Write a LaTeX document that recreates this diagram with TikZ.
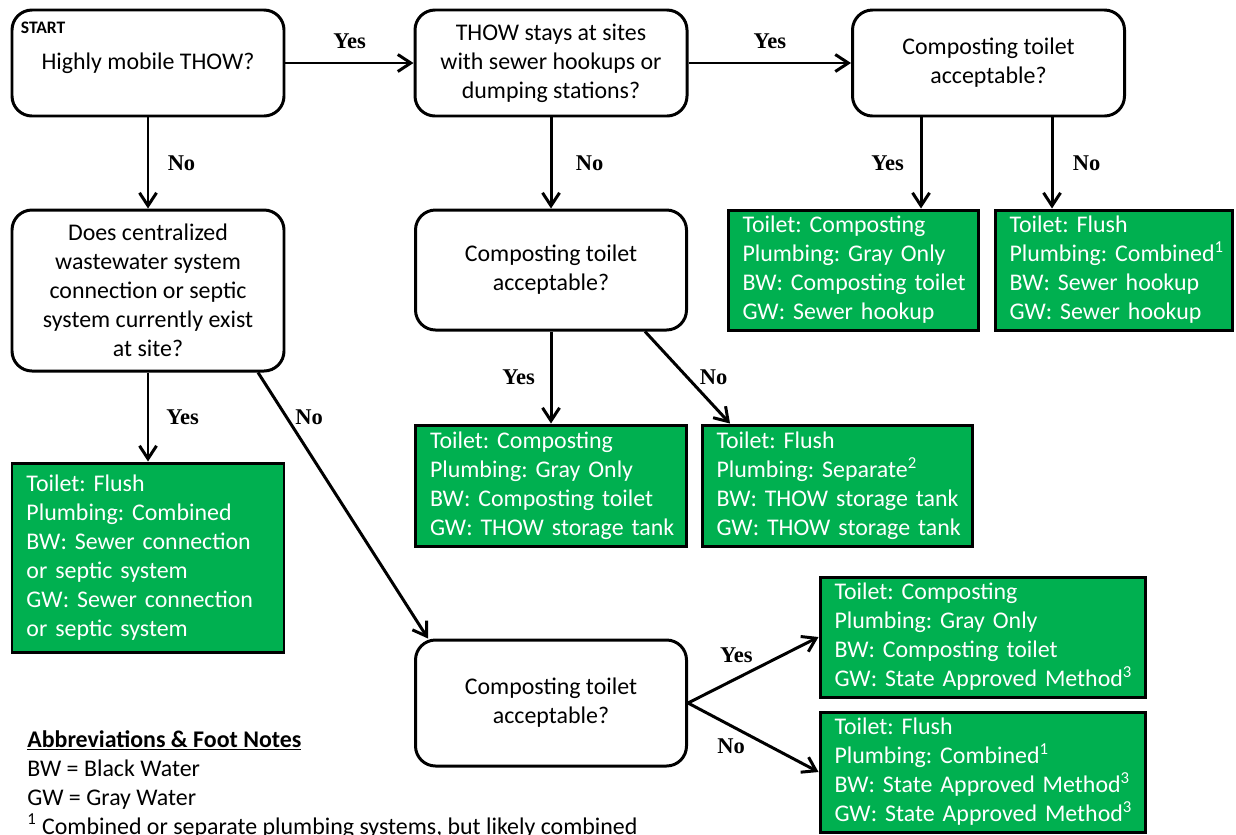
\documentclass[tikz,border=0pt]{standalone}
\usepackage{fontspec}
\setmainfont{Carlito}
\newfontfamily\answerfont{Liberation Serif}
\usepackage{tikz}
\usetikzlibrary{arrows.meta}
\definecolor{okgreen}{HTML}{00B050}
\frenchspacing

\begin{document}
\begin{tikzpicture}[font=\fontsize{13.6pt}{16.5pt}\selectfont,>={Straight Barb[length=2.6mm,width=3.4mm]},
  decision/.style={rectangle,rounded corners=0.4cm,fill=white,draw=black,line width=1.7pt,minimum width=5.44cm,minimum height=2.12cm,align=center,inner sep=2pt},
  outcome/.style={rectangle,fill=okgreen,draw=black,line width=1.7pt,minimum height=2.4cm,text=white,align=left,inner sep=0pt,execute at begin node={\setlength{\leftskip}{0.29cm}}},
  answer/.style={font=\answerfont\bfseries\fontsize{12.8pt}{15pt}\selectfont,inner sep=1pt},
  flow/.style={->,draw=black,line width=1.7pt}]
\useasboundingbox (0,0) rectangle (24.72,-16.68);
% questions
\node[decision] (mobile) at (2.96,-1.26) {Highly mobile THOW?};
\node[font=\bfseries\fontsize{10pt}{12pt}\selectfont,anchor=west,inner sep=0pt] (start) at (0.41,-0.56) {START};
\node[decision] (hookups) at (11.02,-1.26) {THOW stays at sites\\with sewer hookups or\\dumping stations?};
\node[decision] (compost1) at (19.77,-1.26) {Composting toilet\\acceptable?};
\node[decision,minimum height=3.22cm] (existing) at (2.96,-5.81) {Does centralized\\wastewater system\\connection or septic\\system currently exist\\at site?};
\node[decision,minimum width=5.42cm,minimum height=2.4cm] (compost2) at (11.02,-5.40) {Composting toilet\\acceptable?};
\node[decision,minimum width=5.42cm,minimum height=2.52cm] (compost3) at (11.02,-14.06) {Composting toilet\\acceptable?};
% outcomes
\node[outcome,minimum width=5cm,text width=5cm] (composthook) at (17.06,-5.40) {Toilet: Composting\\Plumbing: Gray Only\\BW: Composting toilet\\GW: Sewer hookup};
\node[outcome,minimum width=4.74cm,text width=4.74cm] (flushhook) at (22.27,-5.40) {Toilet: Flush\\Plumbing: Combined\textsuperscript{1}\\BW: Sewer hookup\\GW: Sewer hookup};
\node[outcome,minimum width=5.44cm,text width=5.44cm,minimum height=3.78cm] (flushsewer) at (2.96,-11.15) {Toilet: Flush\\Plumbing: Combined\\BW: Sewer connection\\or septic system\\GW: Sewer connection\\or septic system};
\node[outcome,minimum width=5.42cm,text width=5.42cm,minimum height=2.42cm] (composttank) at (11.02,-9.71) {Toilet: Composting\\Plumbing: Gray Only\\BW: Composting toilet\\GW: THOW storage tank};
\node[outcome,minimum width=5.4cm,text width=5.4cm,minimum height=2.42cm] (flushtank) at (16.74,-9.71) {Toilet: Flush\\Plumbing: Separate\textsuperscript{2}\\BW: THOW storage tank\\GW: THOW storage tank};
\node[outcome,minimum width=6.5cm,text width=6.5cm] (compoststate) at (19.65,-12.74) {Toilet: Composting\\Plumbing: Gray Only\\BW: Composting toilet\\GW: State Approved Method\textsuperscript{3}};
\node[outcome,minimum width=6.5cm,text width=6.5cm] (flushstate) at (19.65,-15.44) {Toilet: Flush\\Plumbing: Combined\textsuperscript{1}\\BW: State Approved Method\textsuperscript{3}\\GW: State Approved Method\textsuperscript{3}};
% notes
\node[anchor=north west,align=left,inner sep=0pt] (notes) at (0.54,-14.6) {\underline{\textbf{Abbreviations \& Foot Notes}}\\BW = Black Water\\GW = Gray Water\\\textsuperscript{1} Combined or separate plumbing systems, but likely combined};
% connectors
\draw[flow] (mobile) -- node[answer,above=0.22cm] {Yes} (hookups);
\draw[flow] (hookups) -- node[answer,above=0.22cm] {Yes} (compost1);
\draw[flow] (mobile) -- node[answer,right=0.33cm] {No} (existing);
\draw[flow] (hookups) -- node[answer,right=0.43cm] {No} (compost2);
\draw[flow] ([xshift=-1.35cm]compost1.south) -- node[answer,left=0.28cm] {Yes} ([xshift=-1.35cm]compost1.south |- composthook.north);
\draw[flow] ([xshift=1.27cm]compost1.south) -- node[answer,right=0.35cm] {No} ([xshift=1.27cm]compost1.south |- flushhook.north);
\draw[flow] (existing) -- node[answer,right=0.3cm] {Yes} (flushsewer);
\draw[flow] ([xshift=2.2cm]existing.south) -- node[answer,pos=0.17,right=3pt] {No} ([xshift=0.28cm]compost3.north west);
\draw[flow] (compost2) -- node[answer,left=0.26cm] {Yes} (composttank);
\draw[flow] ([xshift=1.88cm]compost2.south) -- node[answer,right=0.18cm] {No} ([xshift=-2.14cm]flushtank.north);
\draw[flow] (compost3.east) -- node[answer,pos=0.37,above=0.25cm] {Yes} (compoststate.west);
\draw[flow] (compost3.east) -- node[answer,pos=0.33,below=0.2cm] {No} (flushstate.west);
\end{tikzpicture}
\end{document}
